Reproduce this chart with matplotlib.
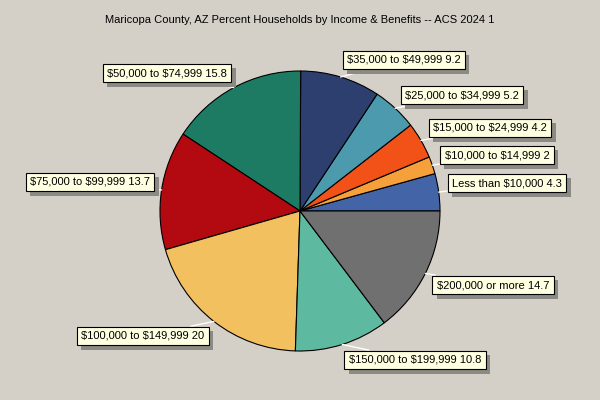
import numpy as np
import matplotlib
matplotlib.use("Agg")
import matplotlib.pyplot as plt
import matplotlib.patheffects as pe

# === Data ===
categories = ["Less than $10,000", "$10,000 to $14,999", "$15,000 to $24,999",
              "$25,000 to $34,999", "$35,000 to $49,999", "$50,000 to $74,999",
              "$75,000 to $99,999", "$100,000 to $149,999", "$150,000 to $199,999",
              "$200,000 or more"]
values = [4.3, 2, 4.2, 5.2, 9.2, 15.8, 13.7, 20, 10.8, 14.7]
colors = ["#4365A8", "#F5A03A", "#F25118", "#4C9AAE", "#2C3F6E",
          "#1D7B64", "#B20A10", "#F2C05E", "#5DB9A0", "#707070"]
title = "Maricopa County, AZ Percent Households by Income & Benefits -- ACS 2024 1"

# === Label box centres (pixels from top-left) ===
label_px = [(507, 183), (497, 155), (490, 128), (462, 95), (404, 60),
            (167, 73), (90, 182), (143, 336), (415, 360), (493, 285)]

W, H = 600, 400
cx, cy, R = 300, 211, 140
bg = "#D4D0C8"

plt.rcParams["font.family"] = ["Liberation Sans", "DejaVu Sans"]
fig = plt.figure(figsize=(W / 100, H / 100), dpi=100, facecolor=bg)
ax = fig.add_axes([0, 0, 1, 1])
ax.set_facecolor(bg)
ax.axis("off")

ax.pie(values, colors=colors, startangle=0, counterclock=True,
       radius=1.0, center=(0, 0),
       wedgeprops=dict(edgecolor="black", linewidth=0.8))
ax.set_xlim(-cx / R, (W - cx) / R)
ax.set_ylim(-(H - cy) / R, cy / R)

total = sum(values)
cum = np.cumsum([0] + values)
for i, (cat, v) in enumerate(zip(categories, values)):
    mid = np.deg2rad((cum[i] + v / 2) / total * 360)
    px, py = label_px[i]
    tx, ty = (px - cx) / R, (cy - py) / R
    ann = ax.annotate(f"{cat} {v:g}", xy=(np.cos(mid), np.sin(mid)), xytext=(tx, ty),
                      ha="center", va="center", fontsize=8, color="black",
                      parse_math=False,
                      bbox=dict(boxstyle="square,pad=0.4", fc="#FFFFE1", ec="black", lw=0.8),
                      arrowprops=dict(arrowstyle="-", color="white", lw=1,
                                      shrinkA=0, shrinkB=0))
    # drop shadow under the label box
    ann.get_bbox_patch().set_path_effects([
        pe.SimplePatchShadow(offset=(3, -3), shadow_rgbFace="#8C8A85", alpha=1),
        pe.Normal()])

fig.text(0.5, 1 - 20 / H, title, ha="center", va="center", fontsize=8)

fig.savefig("out.png", dpi=100, facecolor=bg)
